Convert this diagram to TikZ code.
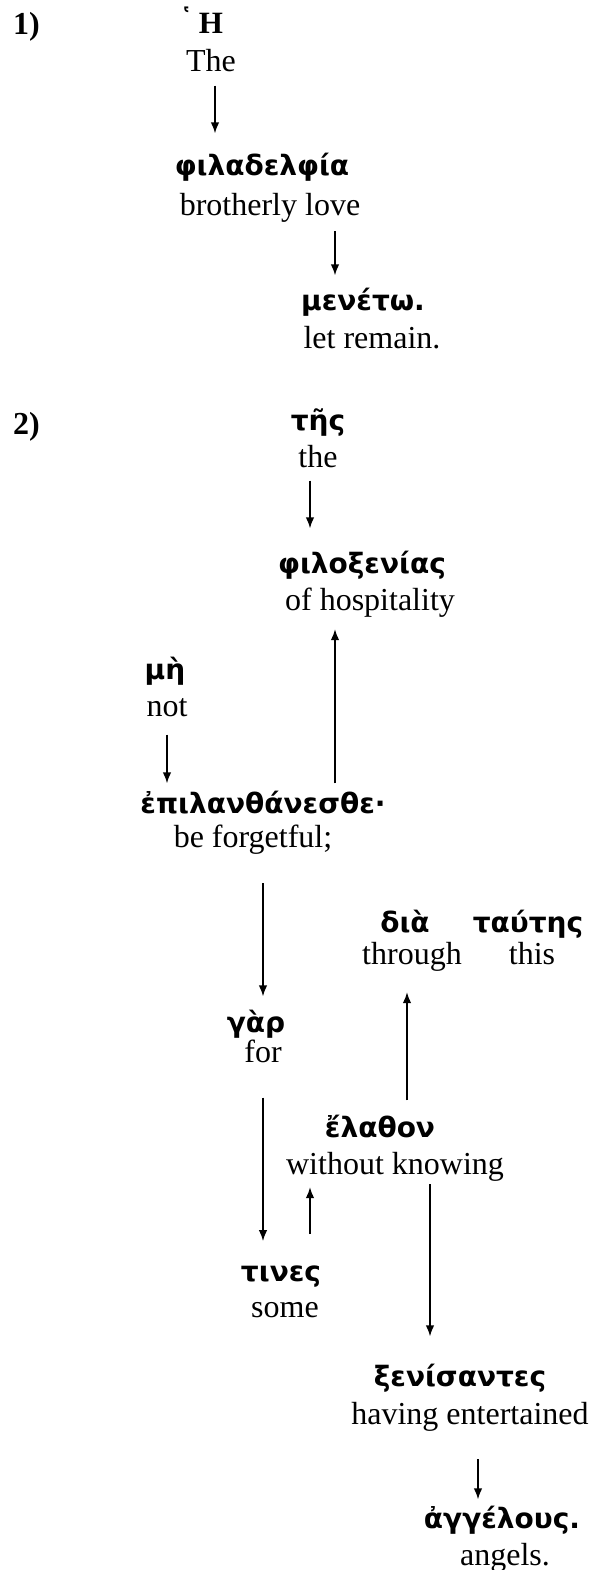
\documentclass[tikz,border=0pt]{standalone}
\usepackage{fontspec}
\setmainfont{Liberation Serif}
\newfontfamily\grkfont{DejaVu Sans}
\usetikzlibrary{arrows.meta}
\tikzset{
  grk/.style={font=\grkfont\bfseries\fontsize{28}{33}\selectfont, anchor=base, inner sep=0pt},
  eng/.style={font=\fontsize{32}{38}\selectfont, anchor=base, inner sep=0pt},
  num/.style={font=\bfseries\fontsize{32}{38}\selectfont, anchor=base west, inner sep=0pt},
  arr/.style={draw=black, line width=1.6pt, -{Latex[length=11pt,width=8.5pt]}},
}

\begin{document}
\begin{tikzpicture}[x=1pt,y=-1pt]
  \useasboundingbox (0,0) rectangle (593,1570);
  % 1)
  \node[num] (one) at (13,35) {1)};
  \node[eng,font=\bfseries\fontsize{31}{38}\selectfont] (he) at (201,34)
    {\raisebox{3pt}{\grkfont\bfseries\fontsize{30}{30}\selectfont ῾}\hspace{5pt}Η};
  \node[eng] (the) at (211,72) {The};
  \node[grk] (phil) at (262,176) {φιλαδελφία};
  \node[eng] (love) at (270,216) {brotherly love};
  \node[grk] (menet) at (363,310) {μενέτω.};
  \node[eng] (remain) at (372,348) {let remain.};
  \draw[arr, shorten <=13pt, shorten >=20pt] (the.south -| 215,0) -- (phil.north -| 215,0);
  \draw[arr, shorten <=8pt, shorten >=12pt] (love.south -| 335,0) -- (menet.north -| 335,0);
  % 2)
  \node[num] (two) at (13,434) {2)};
  \node[grk] (tes) at (318,430) {τῆς};
  \node[eng] (the2) at (318,467) {the};
  \node[grk] (philox) at (362,573) {φιλοξενίας};
  \node[eng] (hosp) at (370,610) {of hospitality};
  \node[grk] (me) at (165,679) {μὴ};
  \node[eng] (not) at (167,716) {not};
  \node[grk] (epil) at (263,813) {ἐπιλανθάνεσθε·};
  \node[eng] (forget) at (253,847) {be forgetful;};
  \node[grk] (dia) at (405,932) {διὰ};
  \node[grk] (tautes) at (528,932) {ταύτης};
  \node[eng] (through) at (412,964) {through};
  \node[eng] (this) at (532,964) {this};
  \node[grk] (gar) at (256,1032) {γὰρ};
  \node[eng] (for) at (263,1062) {for};
  \node[grk] (elathon) at (380,1137) {ἔλαθον};
  \node[eng] (without) at (395,1174) {without knowing};
  \node[grk] (tines) at (281,1281) {τινες};
  \node[eng] (some) at (285,1317) {some};
  \node[grk] (xenis) at (460,1386) {ξενίσαντες};
  \node[eng] (entert) at (470,1424) {having entertained};
  \node[grk] (angel) at (502,1528) {ἀγγέλους.};
  \node[eng] (angels) at (505,1565) {angels.};
  \draw[arr, shorten <=13pt, shorten >=22pt] (the2.south -| 310,0) -- (philox.north -| 310,0);
  \draw[arr, shorten <=7pt, shorten >=12pt] (epil.north -| 335,0) -- (hosp.south -| 335,0);
  \draw[arr, shorten <=18pt, shorten >=7pt] (not.south -| 167,0) -- (epil.north -| 167,0);
  \draw[arr, shorten <=29pt, shorten >=13pt] (forget.south -| 263,0) -- (gar.north -| 263,0);
  \draw[arr, shorten <=14pt, shorten >=21pt] (elathon.north -| 407,0) -- (through.south -| 407,0);
  \draw[arr, shorten <=35pt, shorten >=24pt] (for.south -| 263,0) -- (tines.north -| 263,0);
  \draw[arr, shorten <=31pt, shorten >=6pt] (tines.north -| 310,0) -- (without.south -| 310,0);
  \draw[arr, shorten <=3pt, shorten >=27pt] (without.south -| 430,0) -- (xenis.north -| 430,0);
  \draw[arr, shorten <=28pt, shorten >=6pt] (entert.south -| 478,0) -- (angel.north -| 478,0);
\end{tikzpicture}
\end{document}
